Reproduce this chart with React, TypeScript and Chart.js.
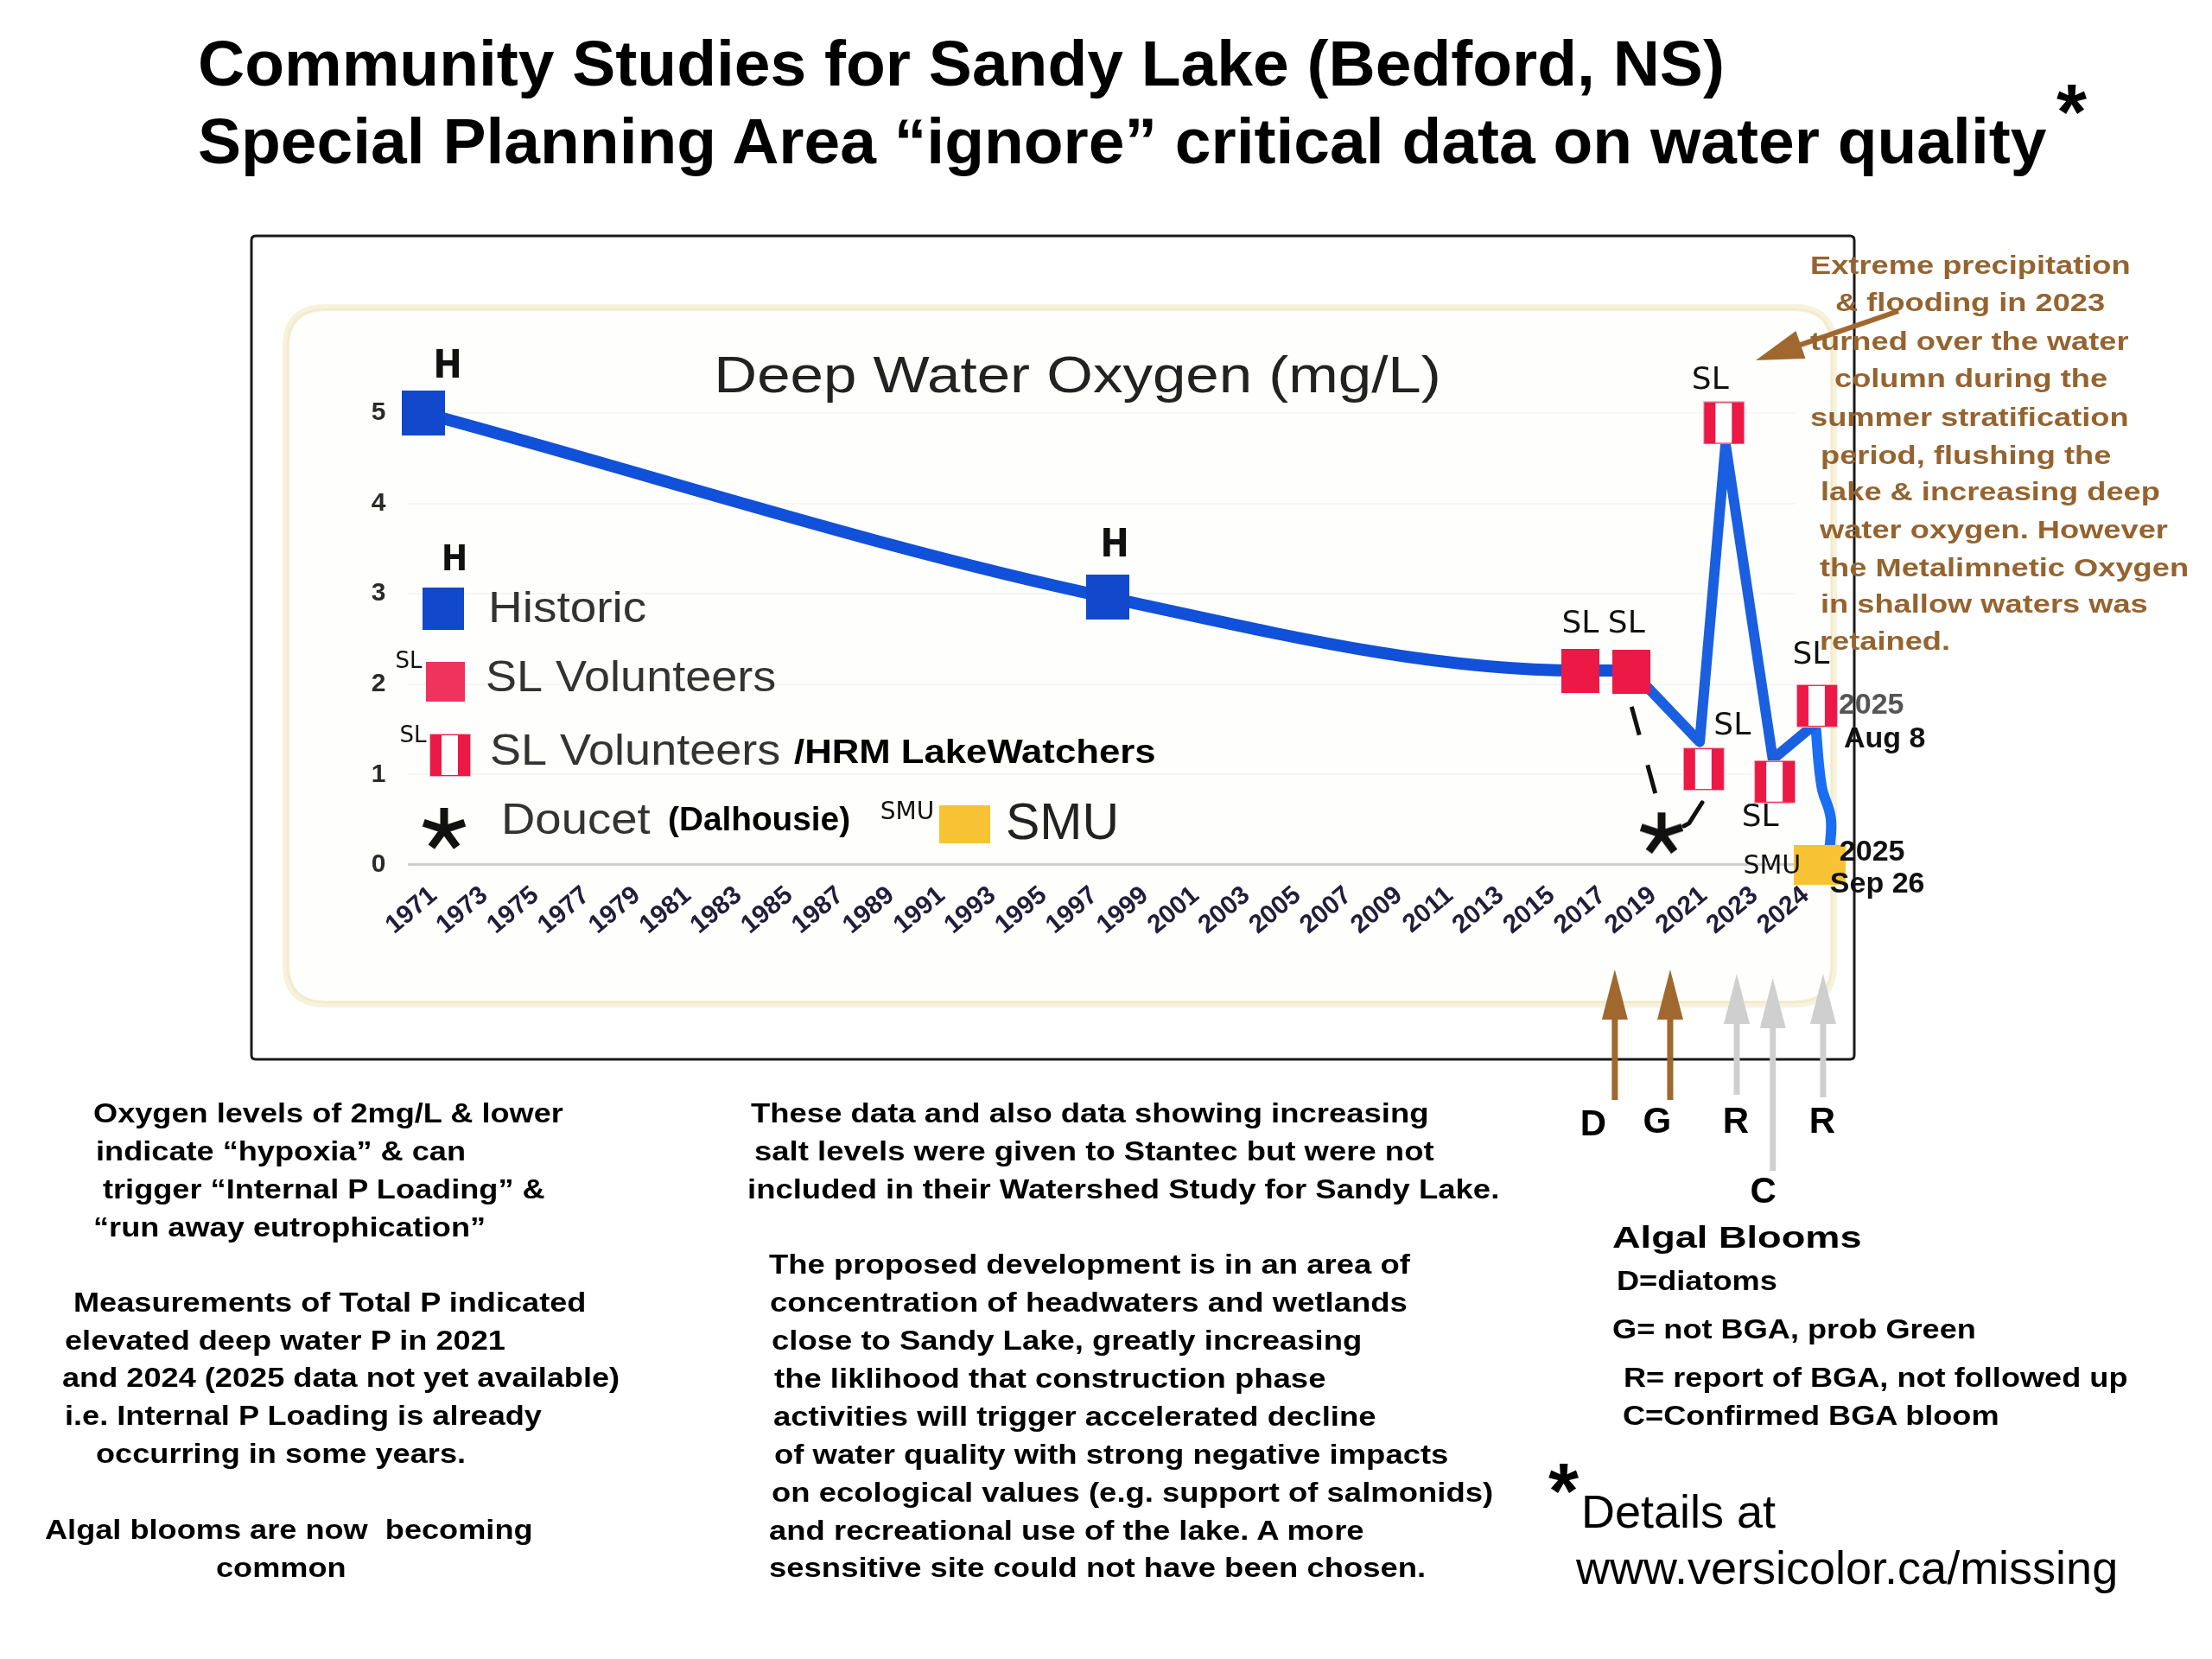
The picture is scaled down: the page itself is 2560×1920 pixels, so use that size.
import React, { useEffect, useRef } from 'react';
import { Chart, registerables } from 'chart.js';

Chart.register(...registerables);

const FONT = '"Liberation Sans", Arial, Helvetica, sans-serif';
const HAND = '"DejaVu Sans", sans-serif';
const NARROW = '"Liberation Sans Narrow", "DejaVu Sans Condensed", "Liberation Sans", sans-serif';

// ---------------- data ----------------
const xLabels = [
  '1971', '1973', '1975', '1977', '1979', '1981', '1983', '1985', '1987', '1989',
  '1991', '1993', '1995', '1997', '1999', '2001', '2003', '2005', '2007', '2009',
  '2011', '2013', '2015', '2017', '2019', '2021', '2023', '2024',
];
const yTicks = [0, 1, 2, 3, 4, 5];

// x = position along the category axis (index of label, fractional where the original sits between labels)
const historicX = [0, 13.47];
const historicY = [5.0, 2.96];
const slX = [22.77, 23.78];
const slY = [2.15, 2.14];
const slHrmX = [25.2, 25.6, 26.6, 27.43];
const slHrmY = [1.06, 4.89, 0.92, 1.76];
const doucetX = [24.37];
const doucetY = [0.36];
const smuX = [27.48];
const smuY = [0.0];

const trendX = [0, 13.47, 22.77, 23.78];
const trendY = [5.0, 2.96, 2.15, 2.15];
const recentX = [23.78, 25.12, 25.63, 26.56, 27.33];
const recentY = [2.15, 1.36, 4.65, 1.17, 1.53];
const lastX = [27.4, 27.52, 27.7, 27.68];
const lastY = [1.55, 0.87, 0.52, 0.17];
const doucetLinkX = [23.78, 24.35];
const doucetLinkY = [1.75, 0.58];
const doucetHookX = [24.81, 24.91, 25.17];
const doucetHookY = [0.43, 0.46, 0.69];

const bloomX = [23.45, 24.54, 25.85, 26.56, 27.55];
const bloomCodes = ['D', 'G', 'R', 'C', 'R'];
const bloomKinds = ['algal', 'algal', 'report', 'report', 'report'];

const titleLines = [
  'Community Studies for Sandy Lake (Bedford, NS)',
  'Special Planning Area \u201cignore\u201d critical data on water quality',
];
const chartTitle = 'Deep Water Oxygen (mg/L)';
const legendLabels = ['Historic', 'SL Volunteers', 'SL Volunteers', 'Doucet', 'SMU'];
const legendExtras = ['/HRM LakeWatchers', '(Dalhousie)'];

const floodNote = [
  'Extreme precipitation',
  '& flooding in 2023',
  'turned over the water',
  'column during the',
  'summer stratification',
  'period, flushing the',
  'lake & increasing deep',
  'water oxygen. However',
  'the Metalimnetic Oxygen',
  'in shallow waters was',
  'retained.',
];
const leftNote = [
  'Oxygen levels of 2mg/L & lower',
  'indicate \u201chypoxia\u201d & can',
  'trigger \u201cInternal P Loading\u201d &',
  '\u201crun away eutrophication\u201d',
  'Measurements of Total P indicated',
  'elevated deep water P in 2021',
  'and 2024 (2025 data not yet available)',
  'i.e. Internal P Loading is already',
  'occurring in some years.',
  'Algal blooms are now  becoming',
  'common',
];
const middleNote = [
  'These data and also data showing increasing',
  'salt levels were given to Stantec but were not',
  'included in their Watershed Study for Sandy Lake.',
  'The proposed development is in an area of',
  'concentration of headwaters and wetlands',
  'close to Sandy Lake, greatly increasing',
  'the liklihood that construction phase',
  'activities will trigger accelerated decline',
  'of water quality with strong negative impacts',
  'on ecological values (e.g. support of salmonids)',
  'and recreational use of the lake. A more',
  'sesnsitive site could not have been chosen.',
];
const bloomKey = [
  'D=diatoms',
  'G= not BGA, prob Green',
  'R= report of BGA, not followed up',
  'C=Confirmed BGA bloom',
];

// ---------------- layout (pixels) ----------------
const floodPos = [
  [2095, 307], [2124, 350], [2095, 395], [2123, 438], [2095, 483], [2107, 527],
  [2107, 569], [2106, 613], [2106, 657], [2107, 699], [2106, 742],
];
const leftPos = [
  [108, 1288], [111, 1332], [119, 1376], [108, 1420], [85, 1507], [75, 1551],
  [72, 1594], [75, 1638], [111, 1682], [52, 1770], [250, 1814],
];
const middlePos = [
  [869, 1288], [873, 1332], [865, 1376], [890, 1463], [891, 1507], [893, 1551],
  [896, 1595], [895, 1639], [896, 1683], [893, 1727], [890, 1771], [890, 1814],
];
const bloomKeyPos = [[1871, 1482], [1866, 1538], [1879, 1594], [1878, 1638]];

const BLUE = '#1248cc';
const RED = '#ec1845';
const YELLOW = '#f7c234';
const BROWN = '#a0682f';
const GREY_ARROW = '#cfcfcf';

function makeCanvas(w: number, h: number, draw: (c: CanvasRenderingContext2D) => void) {
  const cv = document.createElement('canvas');
  cv.width = w;
  cv.height = h;
  const c = cv.getContext('2d') as CanvasRenderingContext2D;
  draw(c);
  return cv;
}

function drawAsterisk(c: CanvasRenderingContext2D, cx: number, cy: number, r: number, lw: number) {
  c.save();
  c.strokeStyle = '#111';
  c.lineWidth = lw;
  c.lineCap = 'butt';
  for (let k = 0; k < 5; k++) {
    const a = (-90 + k * 72) * Math.PI / 180;
    c.beginPath();
    c.moveTo(cx, cy);
    c.lineTo(cx + r * Math.cos(a), cy + r * Math.sin(a));
    c.stroke();
  }
  c.restore();
}

function txt(ctx: CanvasRenderingContext2D, s: string, x: number, y: number, font: string, color: string, align: CanvasTextAlign = 'left', sx = 1) {
  ctx.save();
  ctx.font = font;
  ctx.fillStyle = color;
  ctx.textAlign = align;
  ctx.textBaseline = 'middle';
  ctx.translate(x, y);
  ctx.scale(sx, 1);
  ctx.fillText(s, 0, 0);
  ctx.restore();
}

function roundRectPath(ctx: CanvasRenderingContext2D, x: number, y: number, w: number, h: number, r: number) {
  ctx.beginPath();
  ctx.moveTo(x + r, y);
  ctx.lineTo(x + w - r, y);
  ctx.quadraticCurveTo(x + w, y, x + w, y + r);
  ctx.lineTo(x + w, y + h - r);
  ctx.quadraticCurveTo(x + w, y + h, x + w - r, y + h);
  ctx.lineTo(x + r, y + h);
  ctx.quadraticCurveTo(x, y + h, x, y + h - r);
  ctx.lineTo(x, y + r);
  ctx.quadraticCurveTo(x, y, x + r, y);
  ctx.closePath();
}

function arrowUp(ctx: CanvasRenderingContext2D, x: number, tip: number, bottom: number, color: string) {
  ctx.save();
  ctx.fillStyle = color;
  ctx.fillRect(x - 3.5, tip + 50, 7, bottom - tip - 50);
  ctx.beginPath();
  ctx.moveTo(x, tip);
  ctx.lineTo(x + 15, tip + 58);
  ctx.lineTo(x - 15, tip + 58);
  ctx.closePath();
  ctx.fill();
  ctx.restore();
}

function pts(xs: number[], ys: number[]) {
  return xs.map((x, i) => ({ x, y: ys[i] }));
}

function Line({ text, left, cy, size, weight = 'bold', color = '#000', sx = 1, lh }: any) {
  const h = lh || Math.round(size * 1.3);
  return (
    <div
      style={{
        position: 'absolute', left, top: cy - h / 2, height: h, lineHeight: h + 'px',
        fontSize: size, fontWeight: weight as any, color, whiteSpace: 'pre',
        transform: `scaleX(${sx})`, transformOrigin: 'left center', fontFamily: FONT,
      }}
    >
      {text}
    </div>
  );
}

export default function App() {
  const ref = useRef<HTMLCanvasElement | null>(null);

  useEffect(() => {
    document.body.style.margin = '0';
    const canvas = ref.current;
    if (!canvas) return;

    const histImg = makeCanvas(50, 52, (c) => { c.fillStyle = BLUE; c.fillRect(0, 0, 50, 52); });
    const slImg = makeCanvas(44, 51, (c) => { c.fillStyle = RED; c.fillRect(0, 0, 44, 51); });
    const stripeImg = makeCanvas(48, 50, (c) => {
      c.fillStyle = '#f6b3c0'; c.fillRect(0, 0, 48, 50);
      c.fillStyle = RED; c.fillRect(1, 1, 46, 48);
      c.fillStyle = '#ffffff'; c.fillRect(14, 2, 19, 46);
    });
    const starImg = makeCanvas(56, 56, (c) => drawAsterisk(c, 28, 30, 25, 9));
    const smuImg = makeCanvas(60, 46, (c) => { c.fillStyle = YELLOW; c.fillRect(0, 0, 60, 46); });
    const legRedImg = makeCanvas(45, 46, (c) => { c.fillStyle = '#f0335c'; c.fillRect(0, 0, 45, 46); });

    const marker = (label: string, xs: number[], ys: number[], img: any) => ({
      label, data: pts(xs, ys), showLine: false, pointStyle: img, pointRadius: 40,
      pointHoverRadius: 40, order: 0, clip: false as any,
    });
    const line = (label: string, xs: number[], ys: number[], color: string, width: number, extra: any = {}) => ({
      label, data: pts(xs, ys), borderColor: color, borderWidth: width, pointRadius: 0,
      fill: false, order: 2, clip: false as any, borderCapStyle: 'round', borderJoinStyle: 'round', ...extra,
    });

    const decor = {
      id: 'decor',
      beforeDraw(chart: any) {
        const ctx = chart.ctx as CanvasRenderingContext2D;
        ctx.save();
        ctx.fillStyle = '#ffffff';
        ctx.fillRect(0, 0, chart.width, chart.height);
        // outer frame
        ctx.strokeStyle = '#1a1a1a';
        ctx.lineWidth = 3;
        roundRectPath(ctx, 291, 273, 1855, 953, 5);
        ctx.stroke();
        // chart panel
        ctx.fillStyle = '#fefefc';
        ctx.strokeStyle = '#f7f2dc';
        ctx.lineWidth = 8;
        roundRectPath(ctx, 331, 356, 1791, 806, 46);
        ctx.fill();
        ctx.stroke();
        ctx.strokeStyle = '#f1eacb';
        ctx.lineWidth = 2;
        roundRectPath(ctx, 333, 358, 1787, 802, 44);
        ctx.stroke();
        ctx.restore();
      },
      afterDatasetsDraw(chart: any) {
        const ctx = chart.ctx as CanvasRenderingContext2D;
        const xs = chart.scales.x;
        const ys = chart.scales.y;
        const px = (v: number) => xs.getPixelForValue(v);
        const py = (v: number) => ys.getPixelForValue(v);

        // chart title
        txt(ctx, chartTitle, 1247, 438, `59px ${FONT}`, '#222', 'center', 1.17);

        // hand-written tags next to the markers
        const H = `bold 44px ${NARROW}`;
        const SLF = `36px ${HAND}`;
        txt(ctx, 'H', px(historicX[0]) + 28, py(historicY[0]) - 52, H, '#111', 'center');
        txt(ctx, 'H', px(historicX[1]) + 8, py(historicY[1]) - 59, H, '#111', 'center');
        txt(ctx, 'SL', px(slX[0]), py(slY[0]) - 53, SLF, '#111', 'center');
        txt(ctx, 'SL', px(slX[1]) - 6, py(slY[1]) - 54, SLF, '#111', 'center');
        const stripeOff = [[33, -49], [-16, -49], [-17, 42], [-7, -58]];
        slHrmX.forEach((v, i) => {
          txt(ctx, 'SL', px(v) + stripeOff[i][0], py(slHrmY[i]) + stripeOff[i][1], SLF, '#111', 'center');
        });
        txt(ctx, 'SMU', px(smuX[0]) - 55, py(smuY[0]) + 2, `30px ${HAND}`, '#111', 'center');

        // date tags for 2025 readings
        const last = slHrmX.length - 1;
        const ax = px(slHrmX[last]);
        const ay = py(slHrmY[last]);
        txt(ctx, '2025', ax + 25, ay, `bold 34px ${FONT}`, '#555', 'left');
        txt(ctx, 'Aug 8', ax + 31, ay + 39, `bold 34px ${FONT}`, '#111', 'left');
        const sx0 = px(smuX[0]);
        const sy0 = py(smuY[0]);
        txt(ctx, '2025', sx0 + 23, sy0 - 14, `bold 34px ${FONT}`, '#111', 'left');
        txt(ctx, 'Sep 26', sx0 + 12, sy0 + 23, `bold 34px ${FONT}`, '#111', 'left');

        // legend
        const LF = `50px ${FONT}`;
        txt(ctx, 'H', 526, 650, `bold 40px ${NARROW}`, '#111', 'center');
        ctx.drawImage(histImg, 489, 680, 48, 49);
        txt(ctx, legendLabels[0], 565, 706, LF, '#333', 'left', 1.1);
        txt(ctx, 'SL', 473, 766, `26px ${HAND}`, '#111', 'center');
        ctx.drawImage(legRedImg, 493, 766);
        txt(ctx, legendLabels[1], 562, 786, LF, '#333', 'left', 1.08);
        txt(ctx, 'SL', 478, 852, `26px ${HAND}`, '#111', 'center');
        ctx.drawImage(stripeImg, 497, 849);
        txt(ctx, legendLabels[2], 567, 871, LF, '#333', 'left', 1.08);
        txt(ctx, legendExtras[0], 919, 873, `bold 38px ${FONT}`, '#000', 'left', 1.15);
        ctx.drawImage(starImg, 486, 930);
        txt(ctx, legendLabels[3], 580, 951, LF, '#333', 'left', 1.09);
        txt(ctx, legendExtras[1], 773, 951, `bold 38px ${FONT}`, '#000', 'left', 1.02);
        txt(ctx, 'SMU', 1050, 941, `28px ${HAND}`, '#111', 'center');
        ctx.drawImage(smuImg, 1087, 932, 59, 44);
        txt(ctx, legendLabels[4], 1164, 955, `59px ${FONT}`, '#222', 'left');
      },
      afterDraw(chart: any) {
        const ctx = chart.ctx as CanvasRenderingContext2D;
        const xs = chart.scales.x;
        // bloom arrows and their letters
        const tips = [1122, 1122, 1127, 1132, 1127];
        const bottoms = [1273, 1273, 1267, 1355, 1270];
        const letterOff = [[-25, 1302], [-15, 1299], [-1, 1299], [-11, 1380], [-1, 1299]];
        bloomX.forEach((v, i) => {
          const x = xs.getPixelForValue(v);
          arrowUp(ctx, x, tips[i], bottoms[i], bloomKinds[i] === 'algal' ? BROWN : GREY_ARROW);
          txt(ctx, bloomCodes[i], x + letterOff[i][0], letterOff[i][1], `bold 42px ${FONT}`, '#000', 'center');
        });
        // arrow from the flood note
        ctx.save();
        ctx.strokeStyle = BROWN;
        ctx.fillStyle = BROWN;
        ctx.lineWidth = 6;
        const tx = 2032, ty = 417, fx = 2197, fy = 360;
        const len = Math.hypot(fx - tx, fy - ty);
        const ux = (fx - tx) / len, uy = (fy - ty) / len;
        ctx.beginPath();
        ctx.moveTo(fx, fy);
        ctx.lineTo(tx + ux * 40, ty + uy * 40);
        ctx.stroke();
        const bx = tx + ux * 55, by = ty + uy * 55;
        ctx.beginPath();
        ctx.moveTo(tx, ty);
        ctx.lineTo(bx - uy * 17, by + ux * 17);
        ctx.lineTo(bx + uy * 17, by - ux * 17);
        ctx.closePath();
        ctx.fill();
        ctx.restore();
      },
    };

    const chart = new Chart(canvas, {
      type: 'line',
      data: {
        datasets: [
          marker('Historic', historicX, historicY, histImg),
          marker('SL Volunteers', slX, slY, slImg),
          marker('SL Volunteers /HRM LakeWatchers', slHrmX, slHrmY, stripeImg),
          marker('Doucet (Dalhousie)', doucetX, doucetY, starImg),
          marker('SMU', smuX, smuY, smuImg),
          line('trend', trendX, trendY, '#1150d8', 14, { cubicInterpolationMode: 'monotone' }),
          line('recent', recentX, recentY, '#1a5fe0', 12),
          line('last', lastX, lastY, '#1a6ef2', 12, { tension: 0.4 }),
          line('doucet link', doucetLinkX, doucetLinkY, '#111', 5, { borderDash: [34, 36], borderCapStyle: 'butt' }),
          line('doucet hook', doucetHookX, doucetHookY, '#111', 5),
        ] as any,
      },
      options: {
        responsive: false,
        animation: false,
        devicePixelRatio: 1,
        events: [],
        layout: { padding: { left: 0, right: 482.4, top: 415.2, bottom: 804.4 } },
        plugins: { legend: { display: false }, tooltip: { enabled: false }, title: { display: false } },
        scales: {
          x: {
            type: 'linear',
            min: -0.3,
            max: 27,
            afterBuildTicks: (s: any) => { s.ticks = xLabels.map((_, i) => ({ value: i })); },
            afterFit: (s: any) => { s.height = 100; },
            grid: { display: false, drawTicks: false },
            border: { display: false },
            ticks: {
              autoSkip: false,
              maxRotation: 40,
              minRotation: 40,
              padding: 3,
              labelOffset: 12,
              color: '#221d3a',
              font: { family: FONT, size: 30, weight: 'bold' },
              callback: (v: any) => xLabels[Math.round(Number(v))] ?? '',
            },
          },
          y: {
            type: 'linear',
            min: -0.14,
            max: 5.6,
            afterBuildTicks: (s: any) => { s.ticks = yTicks.map((v) => ({ value: v })); },
            afterFit: (s: any) => { s.width = 472.4; },
            grid: {
              drawTicks: false,
              color: (c: any) => (c.tick && c.tick.value === 0 ? '#cfcfcf' : '#f6f6f4'),
              lineWidth: (c: any) => (c.tick && c.tick.value === 0 ? 3 : 2),
            },
            border: { display: false },
            ticks: {
              padding: 26,
              color: '#2a2a2a',
              font: { family: FONT, size: 30, weight: 'bold' },
              callback: (v: any) => String(v),
            },
          },
        },
      } as any,
      plugins: [decor],
    });
    return () => chart.destroy();
  }, []);

  return (
    <div style={{ position: 'absolute', left: 0, top: 0, width: 2560, height: 1920, background: '#fff', overflow: 'hidden', fontFamily: FONT }}>
      <canvas ref={ref} width={2560} height={1920} style={{ position: 'absolute', left: 0, top: 0, width: 2560, height: 1920 }} />
      <Line text={titleLines[0]} left={229} cy={73} size={75} lh={90} />
      <Line text={titleLines[1]} left={229} cy={163} size={75} lh={90} />
      <Line text="*" left={2380} cy={130} size={90} lh={100} />
      {floodNote.map((t, i) => (
        <Line key={'f' + i} text={t} left={floodPos[i][0]} cy={floodPos[i][1]} size={29} sx={1.25} color="#95632f" lh={40} />
      ))}
      {leftNote.map((t, i) => (
        <Line key={'l' + i} text={t} left={leftPos[i][0]} cy={leftPos[i][1]} size={32} sx={1.13} lh={42} />
      ))}
      {middleNote.map((t, i) => (
        <Line key={'m' + i} text={t} left={middlePos[i][0]} cy={middlePos[i][1]} size={32} sx={1.14} lh={42} />
      ))}
      <Line text="Algal Blooms" left={1866} cy={1432} size={35} sx={1.29} lh={46} />
      {bloomKey.map((t, i) => (
        <Line key={'b' + i} text={t} left={bloomKeyPos[i][0]} cy={bloomKeyPos[i][1]} size={32} sx={1.13} lh={42} />
      ))}
      <Line text="*" left={1792} cy={1726} size={90} lh={100} />
      <Line text="Details at" left={1830} cy={1749} size={54} weight="normal" lh={64} />
      <Line text="www.versicolor.ca/missing" left={1824} cy={1814} size={54} weight="normal" lh={64} />
    </div>
  );
}
